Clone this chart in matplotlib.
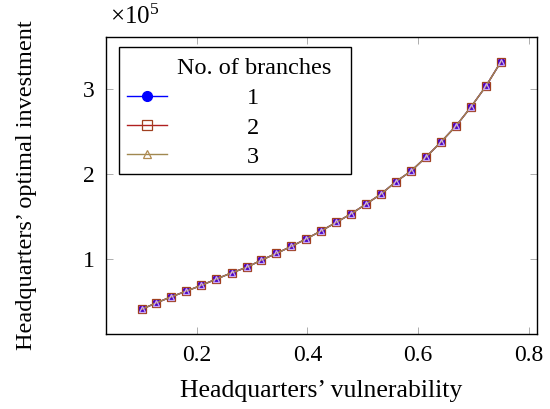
import matplotlib
matplotlib.use("Agg")
import matplotlib.pyplot as plt
from matplotlib.patches import Rectangle

# vulnerability values (x) and optimal investment in units of 1e5 (y)
vulnerability = [0.1, 0.127, 0.154, 0.181, 0.208, 0.235, 0.263, 0.29, 0.317,
                 0.344, 0.371, 0.398, 0.425, 0.452, 0.479, 0.506, 0.533,
                 0.56, 0.588, 0.615, 0.642, 0.669, 0.696, 0.723, 0.75]
invest_1 = [0.412, 0.489, 0.56, 0.627, 0.694, 0.768, 0.842, 0.906, 0.992,
            1.071, 1.153, 1.242, 1.336, 1.435, 1.536, 1.651, 1.768,
            1.914, 2.042, 2.207, 2.384, 2.572, 2.795, 3.039, 3.325]
invest_2 = list(invest_1)
invest_3 = list(invest_1)
branch_labels = ["1", "2", "3"]

plt.rcParams['font.family'] = ['Liberation Serif', 'DejaVu Serif']
plt.rcParams['mathtext.fontset'] = 'custom'
plt.rcParams['mathtext.rm'] = 'Liberation Serif'
plt.rcParams['mathtext.it'] = 'Liberation Serif:italic'

fig = plt.figure(figsize=(5.5, 4.09), dpi=100)
ax = fig.add_axes([0.192, 0.184, 0.785, 0.726])

ax.plot(vulnerability, invest_1, color='blue', lw=1, marker='o', ms=5,
        mfc='blue', mec='blue', label=branch_labels[0], zorder=3)
ax.plot(vulnerability, invest_2, color='#b02020', lw=1, marker='s', ms=5.3,
        mfc=(0.55, 0.0, 0.6, 0.5), mec='#a04020', mew=0.9,
        label=branch_labels[1], zorder=4)
ax.plot(vulnerability, invest_3, color='#a08850', lw=1, marker='^', ms=3.8,
        mfc='none', mec='#c8a8f0', mew=0.9, label=branch_labels[2], zorder=5)

ax.set_xlim(0.035, 0.816)
ax.set_ylim(0.125, 3.62)
ax.set_xticks([0.2, 0.4, 0.6, 0.8])
ax.set_xticklabels(['0.2', '0.4', '0.6', '0.8'])
ax.set_yticks([1, 2, 3])
ax.tick_params(direction='in', top=True, right=True, length=5, width=0.6,
               color='#a0a0a0', labelsize=17, pad=8)
for s in ax.spines.values():
    s.set_linewidth(1.0)

ax.set_xlabel("Headquarters\u2019 vulnerability", fontsize=18.5, labelpad=10)
ax.set_ylabel("Headquarters\u2019 optimal investment", fontsize=17.5, labelpad=33)
ax.text(0.01, 1.025, r'$\times10^5$', transform=ax.transAxes, fontsize=18,
        ha='left', va='bottom')

# legend box with title
ax.add_patch(Rectangle((0.0308, 0.5377), 0.5369, 0.4286, transform=ax.transAxes,
                       facecolor='white', edgecolor='black', lw=1.0, zorder=6))
ax.text(0.345, 0.893, "No. of branches", transform=ax.transAxes, fontsize=17.5,
        ha='center', va='center', zorder=7)
leg = ax.legend(loc='upper left', bbox_to_anchor=(0.0487, 0.83), fontsize=17.5,
                frameon=False, handlelength=1.65, borderpad=0, borderaxespad=0,
                labelspacing=0.3, handletextpad=3.3, markerscale=1.4)
leg.set_zorder(7)
leg.legend_handles[1].set_markerfacecolor('none')
leg.legend_handles[2].set_markeredgecolor('#b08a50')

fig.savefig("out.png", dpi=100)
